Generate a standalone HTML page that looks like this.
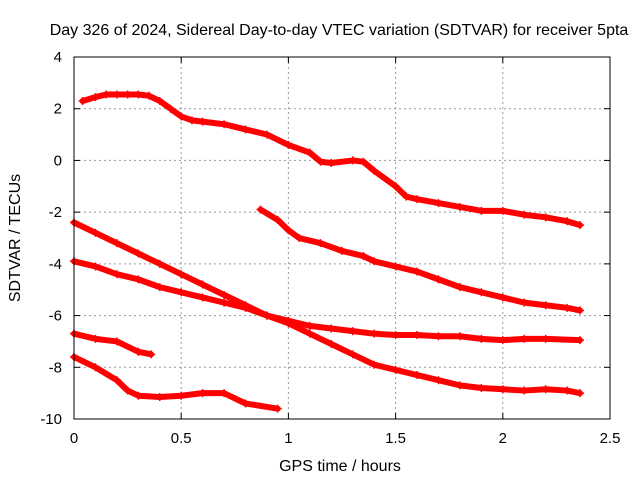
<!DOCTYPE html>
<html><head><meta charset="utf-8"><style>
body{margin:0;background:#fff}
svg text{font-family:"Liberation Sans",sans-serif;fill:#000}
</style></head><body>
<svg width="640" height="480">
<text x="339" y="35" text-anchor="middle" font-size="16">Day 326 of 2024, Sidereal Day-to-day VTEC variation (SDTVAR) for receiver 5pta</text>
<g id="grid"></g>
<g id="axes"></g>
<g id="series"></g>
<rect x="74" y="57" width="536" height="362" fill="none" stroke="#000"/>
<text x="340" y="471" text-anchor="middle" font-size="16">GPS time / hours</text>
<text transform="translate(20,238) rotate(-90)" text-anchor="middle" font-size="16">SDTVAR / TECUs</text>
</svg>
<script>
const xTicks=[0,0.5,1,1.5,2,2.5];
const xTickLabels=["0","0.5","1","1.5","2","2.5"];
const yTicks=[4,2,0,-2,-4,-6,-8,-10];
const yTickLabels=["4","2","0","-2","-4","-6","-8","-10"];
const s1t=[0.04,0.1,0.15,0.2,0.25,0.3,0.35,0.4,0.45,0.5,0.55,0.6,0.7,0.8,0.9,1.0,1.1,1.15,1.2,1.3,1.35,1.4,1.5,1.55,1.6,1.7,1.8,1.9,2.0,2.1,2.2,2.3,2.36];
const s1v=[2.3,2.45,2.55,2.55,2.55,2.55,2.5,2.3,2.0,1.7,1.55,1.5,1.4,1.2,1.0,0.6,0.3,-0.05,-0.1,0.0,-0.05,-0.4,-1.0,-1.4,-1.5,-1.65,-1.8,-1.95,-1.95,-2.1,-2.2,-2.35,-2.5];
const s2t=[0.87,0.95,1.0,1.05,1.15,1.25,1.35,1.4,1.5,1.6,1.7,1.8,1.9,2.0,2.1,2.2,2.3,2.36];
const s2v=[-1.9,-2.3,-2.7,-3.0,-3.2,-3.5,-3.7,-3.9,-4.1,-4.3,-4.6,-4.9,-5.1,-5.3,-5.5,-5.6,-5.7,-5.8];
const s3t=[0,0.1,0.2,0.3,0.4,0.5,0.6,0.7,0.8,0.9,1.0,1.1,1.2,1.3,1.4,1.5,1.6,1.7,1.8,1.9,2.0,2.1,2.2,2.3,2.36];
const s3v=[-2.4,-2.8,-3.2,-3.6,-4.0,-4.4,-4.8,-5.2,-5.6,-6.0,-6.3,-6.7,-7.1,-7.5,-7.9,-8.1,-8.3,-8.5,-8.7,-8.8,-8.85,-8.9,-8.85,-8.9,-9.0];
const s4t=[0,0.1,0.2,0.3,0.4,0.5,0.6,0.7,0.8,0.9,1.0,1.1,1.2,1.3,1.4,1.5,1.6,1.7,1.8,1.9,2.0,2.1,2.2,2.36];
const s4v=[-3.9,-4.1,-4.4,-4.6,-4.9,-5.1,-5.3,-5.5,-5.7,-6.0,-6.2,-6.4,-6.5,-6.6,-6.7,-6.75,-6.75,-6.8,-6.8,-6.9,-6.95,-6.9,-6.9,-6.95];
const s5t=[0,0.1,0.2,0.3,0.36];
const s5v=[-6.7,-6.9,-7.0,-7.4,-7.5];
const s6t=[0,0.1,0.2,0.25,0.3,0.4,0.5,0.6,0.7,0.8,0.95];
const s6v=[-7.6,-8.0,-8.5,-8.9,-9.1,-9.15,-9.1,-9.0,-9.0,-9.4,-9.6];

const NS='http://www.w3.org/2000/svg';
const X0=74,X1=610,Y0=57,Y1=419;
function xs(t){return X0+(t-0)/(2.5-0)*(X1-X0);}
function ys(v){return Y0+(4-v)/(4-(-10))*(Y1-Y0);}
function mk(tag,attrs,parent){const e=document.createElementNS(NS,tag);for(const k in attrs)e.setAttribute(k,attrs[k]);parent.appendChild(e);return e;}
const grid=document.getElementById('grid'),axes=document.getElementById('axes'),ser=document.getElementById('series');
xTicks.forEach((t,i)=>{
  const x=xs(t);
  if(i>0&&i<xTicks.length-1){const g=mk('line',{x1:x,x2:x,y1:Y0,y2:Y1,stroke:'#999','stroke-dasharray':'2,3'},grid);
  
  }
  mk('line',{x1:x,x2:x,y1:Y1,y2:Y1-6,stroke:'#000'},axes);
  mk('line',{x1:x,x2:x,y1:Y0,y2:Y0+6,stroke:'#000'},axes);
  const tx=mk('text',{x:x,y:443,'text-anchor':'middle','font-size':15},axes);
  tx.textContent=xTickLabels[i];
  
  
});
yTicks.forEach((v,i)=>{
  const y=ys(v);
  if(i>0&&i<yTicks.length-1){const g=mk('line',{x1:X0,x2:X1,y1:y,y2:y,stroke:'#999','stroke-dasharray':'2,3'},grid);
  
  }
  mk('line',{x1:X0,x2:X0+6,y1:y,y2:y,stroke:'#000'},axes);
  mk('line',{x1:X1,x2:X1-6,y1:y,y2:y,stroke:'#000'},axes);
  const tx=mk('text',{x:62,y:y+5,'text-anchor':'end','font-size':15},axes);
  tx.textContent=yTickLabels[i];
  
  
});
const all=[[s1t,s1v],[s2t,s2v],[s3t,s3v],[s4t,s4v],[s5t,s5v],[s6t,s6v]];
all.forEach(([ts,vs],k)=>{
  const g=mk('g',{},ser);
  
  
  const pts=ts.map((t,i)=>xs(t)+','+ys(vs[i])).join(' ');
  mk('polyline',{points:pts,fill:'none',stroke:'#f00','stroke-width':6,'stroke-linejoin':'round','stroke-linecap':'round'},g);
  ts.forEach((t,i)=>{
    const x=xs(t),y=ys(vs[i]);
    const p=mk('path',{d:`M${x-4},${y}H${x+4}M${x},${y-4}V${y+4}`,stroke:'#f00','stroke-width':1.5},g);
    
    
  });
});
</script>
</body></html>
